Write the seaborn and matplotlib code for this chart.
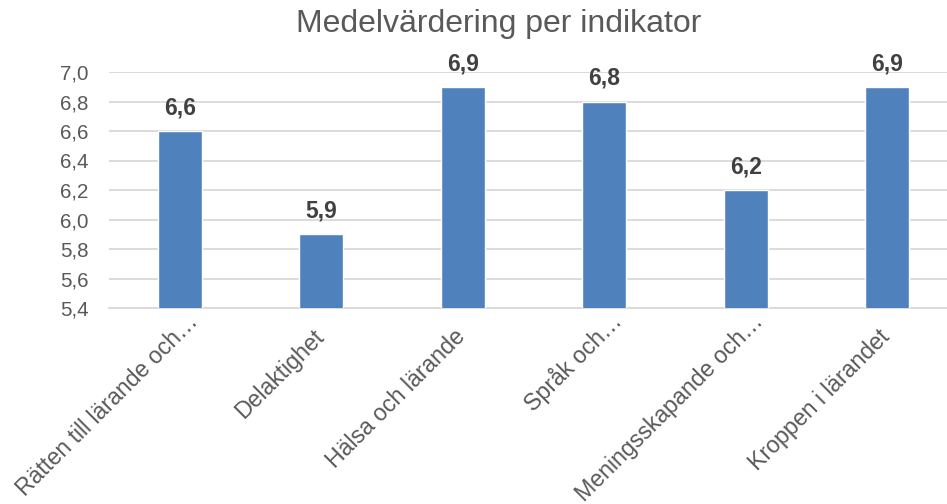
import pandas as pd
import seaborn as sns
import matplotlib.pyplot as plt
from matplotlib.transforms import ScaledTranslation

# Chart data
categories = ["Rätten till lärande och…", "Delaktighet", "Hälsa och lärande",
              "Språk och…", "Meningsskapande och…", "Kroppen i lärandet"]
values = [6.6, 5.9, 6.9, 6.8, 6.2, 6.9]
yticks = [5.4, 5.6, 5.8, 6.0, 6.2, 6.4, 6.6, 6.8, 7.0]

df = pd.DataFrame({"Indikator": categories, "Medel": values})

sns.set_theme(style="white")
plt.rcParams['font.family'] = ['Liberation Sans', 'DejaVu Sans']

fig = plt.figure(figsize=(9.47, 5.04), dpi=100)
# plot area runs a little past the right edge, like the original
ax = fig.add_axes([109.3 / 947, 1 - 308 / 504, 848.4 / 947, (308 - 72) / 504])

sns.barplot(data=df, x="Indikator", y="Medel", color="#4F81BD", width=0.31,
            saturation=1, ax=ax, zorder=3)

ax.set_ylim(5.4, 7.0)
ax.set_yticks(yticks)
ax.set_yticklabels([f"{t:.1f}".replace(".", ",") for t in yticks])
ax.yaxis.grid(True, color="#D9D9D9", linewidth=1.3, zorder=0)
ax.set_axisbelow(True)
for s in ["top", "right", "left"]:
    ax.spines[s].set_visible(False)
ax.spines["bottom"].set_color("#D9D9D9")
ax.spines["bottom"].set_linewidth(1.3)
ax.tick_params(axis="both", length=0, colors="#595959")
ax.tick_params(axis="y", pad=15, labelsize=14.8)
ax.tick_params(axis="x", pad=21.6, labelsize=16.7)
ax.set_xlabel("")
ax.set_ylabel("")

# rotated category labels; the shortened ones (with …) sit a bit further out
for lbl in ax.get_xticklabels():
    lbl.set_rotation(45)
    lbl.set_ha("right")
    lbl.set_va("baseline")
    lbl.set_rotation_mode("anchor")
    shift = 15 if lbl.get_text().endswith("…") else 0
    nudge = ScaledTranslation((4 + shift) / 100, shift / 100, fig.dpi_scale_trans)
    lbl.set_transform(lbl.get_transform() + nudge)

# Value labels above bars
for i, v in enumerate(values):
    ax.annotate(f"{v:.1f}".replace(".", ","), (i, v), xytext=(0, 12),
                textcoords="offset points", ha="center", va="baseline",
                fontsize=16.5, fontweight="bold", color="#404040",
                annotation_clip=False)

fig.suptitle("Medelvärdering per indikator", fontsize=23, color="#595959",
             x=499 / 947, y=1 - 9 / 504)

plt.savefig("out.png", dpi=100)
plt.close()
